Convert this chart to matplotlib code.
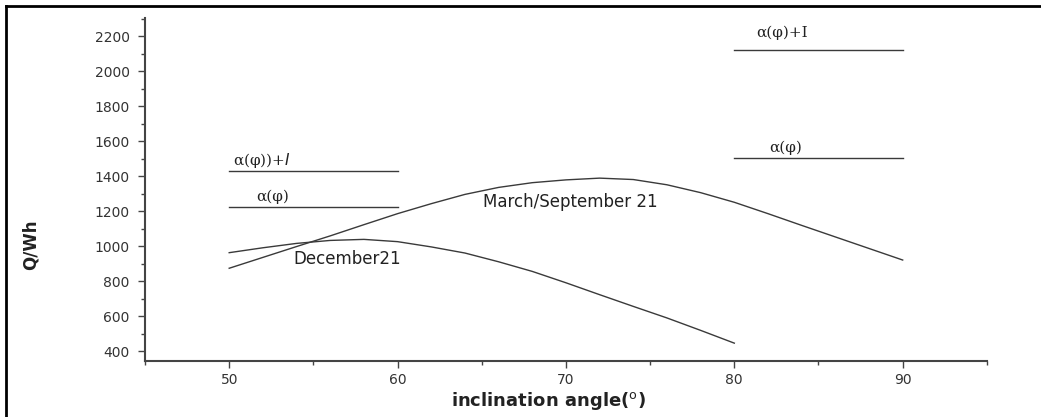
import numpy as np
import matplotlib
matplotlib.use('Agg')
import matplotlib.pyplot as plt
from matplotlib.lines import Line2D
from matplotlib.ticker import MultipleLocator

# curves
march_x = [50, 52, 54, 56, 58, 60, 62, 64, 66, 68, 70, 72, 74, 76, 78, 80, 82, 84, 86, 88, 90]
march_y = [873, 935, 997, 1058, 1122, 1185, 1242, 1295, 1335, 1362, 1378, 1388, 1380, 1350,
           1305, 1250, 1185, 1118, 1052, 986, 920]
dec_x = [50, 52, 54, 56, 58, 60, 62, 64, 66, 68, 70, 72, 74, 76, 78, 80]
dec_y = [962, 990, 1015, 1032, 1038, 1025, 995, 960, 910, 855, 790, 722, 655, 589, 518, 445]

# horizontal reference levels
left_x = [50, 60]
left_alpha_I = 1430
left_alpha = 1225
right_x = [80, 90]
right_alpha_I = 2120
right_alpha = 1505

plt.rcParams['font.family'] = ['DejaVu Sans']
fig = plt.figure(figsize=(10.41, 4.17), dpi=100)
ax = fig.add_axes([0.1393, 0.1343, 0.8087, 0.8225])

lc = '#3a3a3a'
ax.plot(march_x, march_y, color=lc, lw=1.0)
ax.plot(dec_x, dec_y, color=lc, lw=1.0)
ax.plot(left_x, [left_alpha_I] * 2, color=lc, lw=1.0)
ax.plot(left_x, [left_alpha] * 2, color=lc, lw=1.0)
ax.plot(right_x, [right_alpha_I] * 2, color=lc, lw=1.0)
ax.plot(right_x, [right_alpha] * 2, color=lc, lw=1.0)

serif = ['DejaVu Serif']
tc = '#222'
ax.text(50.2, 1491, 'α(φ))+$\\it{I}$', family=serif, fontsize=11, color=tc, va='center')
ax.text(51.6, 1280, 'α(φ)', family=serif, fontsize=11, color=tc, va='center')
ax.text(81.3, 2220, 'α(φ)+I', family=serif, fontsize=11, color=tc, va='center')
ax.text(82.1, 1560, 'α(φ)', family=serif, fontsize=11, color=tc, va='center')
ax.text(65.1, 1250, 'March/September 21', fontsize=12, color=tc, va='center')
ax.text(53.8, 925, 'December21', fontsize=12, color=tc, va='center')

ax.set_xlim(45, 95)
ax.set_ylim(343, 2303)
ax.set_xticks([50, 60, 70, 80, 90])
ax.set_yticks(np.arange(400, 2201, 200))
ax.xaxis.set_minor_locator(MultipleLocator(5))
ax.yaxis.set_minor_locator(MultipleLocator(100))
for s in ['top', 'right']:
    ax.spines[s].set_visible(False)
for s in ['left', 'bottom']:
    ax.spines[s].set_color('#444')
    ax.spines[s].set_linewidth(1.5)
ax.tick_params(which='major', length=5, width=1, color='#444', labelsize=10, labelcolor='#333')
ax.tick_params(which='minor', length=3, width=1, color='#444')
ax.tick_params(axis='y', which='major', pad=6)

ax.set_xlabel('inclination angle($^{\\mathrm{o}}$)', fontsize=13, fontweight='bold', color=tc)
ax.xaxis.set_label_coords(0.479, -0.085)
ax.set_ylabel('Q/Wh', fontsize=12, fontweight='bold', color=tc)
ax.yaxis.set_label_coords(-0.125, 0.34)

# outer frame (top and left edges)
fig.add_artist(Line2D([6 / 1041, 1], [1 - 6 / 417] * 2, color='black', lw=2))
fig.add_artist(Line2D([6 / 1041] * 2, [0, 1 - 6 / 417], color='black', lw=2))

fig.savefig('out.png', dpi=100)
